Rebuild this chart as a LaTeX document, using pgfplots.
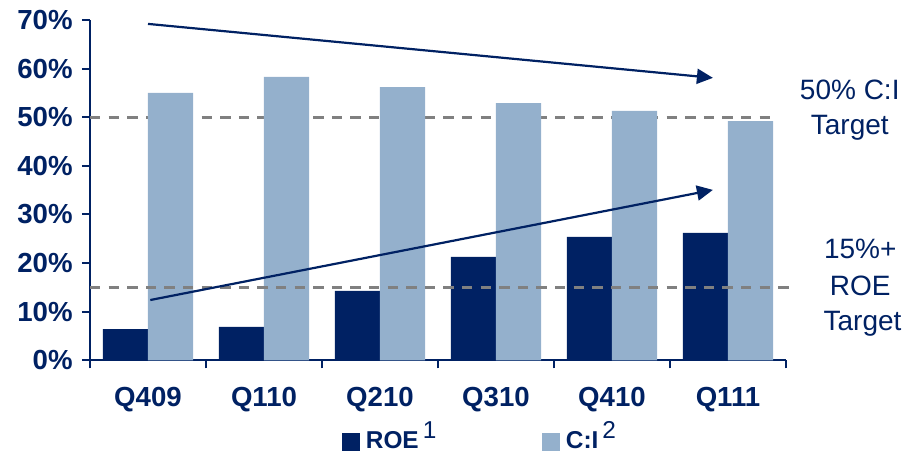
\documentclass[border=0pt]{standalone}
\usepackage{fontspec}
\setmainfont{Liberation Sans}
\usepackage{pgfplots}
\pgfplotsset{compat=1.18}
\usetikzlibrary{arrows.meta}
\definecolor{navy}{RGB}{0,33,99}
\definecolor{steel}{RGB}{148,176,204}
\definecolor{dgray}{RGB}{128,128,128}
\begin{document}
\begin{tikzpicture}
\begin{axis}[
  at={(0pt,0pt)}, anchor=south west,
  scale only axis, width=348pt, height=170.15pt,
  xmin=-0.5, xmax=5.5, ymin=0, ymax=70,
  clip=false,
  axis x line*=bottom, axis y line*=left,
  axis line style={navy, line width=1pt, -},
  ytick={0,10,...,70},
  yticklabels={0\%,10\%,20\%,30\%,40\%,50\%,60\%,70\%},
  xtick={0,...,5},
  xticklabels={Q409,Q110,Q210,Q310,Q410,Q111},
  minor xtick={-0.5,0.5,...,5.5},
  tick align=outside,
  major tick length=4pt, minor tick length=4pt,
  tick style={navy, line width=1pt},
  major x tick style={draw=none},
  tick label style={font=\fontsize{13.8}{16}\selectfont\bfseries, text=navy, inner sep=0pt},
  yticklabel style={anchor=east, xshift=-4.5pt},
  xticklabel style={anchor=base, yshift=-19.2pt},
  legend columns=2,
  legend style={draw=none, fill=none, inner sep=0pt, outer sep=0pt,
    at={(axis description cs:0.3625,-0.2690)}, anchor=south west,
    font=\fontsize{12.2}{14}\selectfont\bfseries, text=navy,
    nodes={inner sep=0pt},
    /tikz/every odd column/.append style={column sep=3pt},
    /tikz/every even column/.append style={column sep=53pt}},
]
% 50% C:I target line (behind bars)
\addplot[dgray, line width=1.3pt, dash pattern=on 5.2pt off 4.1pt, forget plot] coordinates {(-0.5,50) (5.4,50)};

\addplot[ybar, bar width=0.39, bar shift=-0.195, fill=navy, draw=none,
  legend image code/.code={\fill[navy] (0pt,-7pt) rectangle (8.8pt,1.8pt);}]
  coordinates {(0,6.4) (1,6.85) (2,14.3) (3,21.25) (4,25.4) (5,26.2)};
\addlegendentry{ROE\hspace{2pt}\raisebox{5pt}{\mdseries 1}}

\addplot[ybar, bar width=0.39, bar shift=0.195, fill=steel, draw=none,
  legend image code/.code={\fill[steel] (0pt,-7pt) rectangle (8.8pt,1.8pt);}]
  coordinates {(0,55.0) (1,58.3) (2,56.2) (3,52.9) (4,51.3) (5,49.2)};
\addlegendentry{C:I\hspace{2pt}\raisebox{5pt}{\mdseries 2}}

% 15% ROE target line (in front of bars)
\addplot[dgray, line width=1.3pt, dash pattern=on 5.2pt off 4.1pt, forget plot] coordinates {(-0.5,15) (5.56,15)};

% trend arrows
\draw[navy, line width=1.1pt, -{Triangle[length=8pt,width=7.5pt]}] (axis cs:0,69.2) -- (axis cs:4.87,58.1);
\draw[navy, line width=1.1pt, -{Triangle[length=8pt,width=7.5pt]}] (axis cs:0.02,12.4) -- (axis cs:4.87,35.05);

% target annotations
\node[anchor=base, text=navy, font=\fontsize{14}{16}\selectfont, inner sep=0pt] at (axis cs:6.05,53.7) {50\% C:I};
\node[anchor=base, text=navy, font=\fontsize{14}{16}\selectfont, inner sep=0pt] at (axis cs:6.05,46.4) {Target};
\node[anchor=base, text=navy, font=\fontsize{14}{16}\selectfont, inner sep=0pt] at (axis cs:6.14,20.84) {15\%+};
\node[anchor=base, text=navy, font=\fontsize{14}{16}\selectfont, inner sep=0pt] at (axis cs:6.14,13.43) {ROE};
\node[anchor=base, text=navy, font=\fontsize{14}{16}\selectfont, inner sep=0pt] at (axis cs:6.16,6.23) {Target};
\end{axis}
\pgfresetboundingbox
\path[use as bounding box] (-45pt,-46.35pt) rectangle (407.5pt,180.15pt);
\end{tikzpicture}
\end{document}
